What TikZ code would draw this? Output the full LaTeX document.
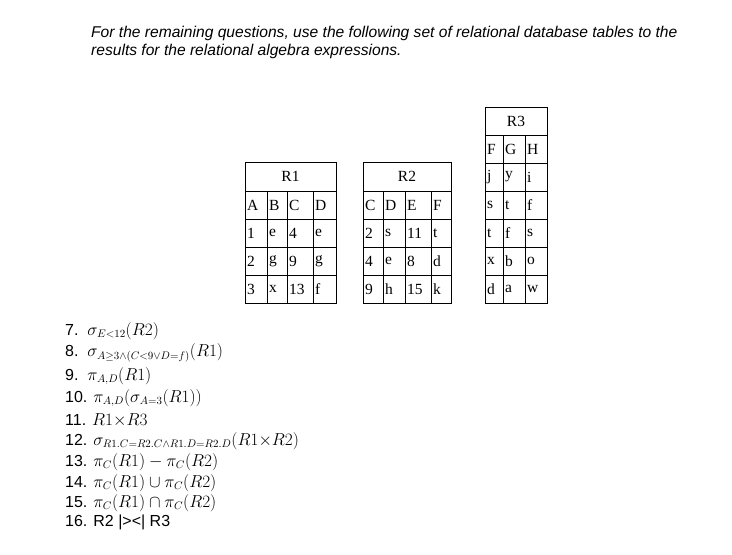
\documentclass[tikz,border=0pt]{standalone}
\usepackage{amssymb}
\usepackage{fontspec}
\setmainfont{Liberation Serif}
\setsansfont{Liberation Sans}
\usetikzlibrary{positioning}

\begin{document}
\begin{tikzpicture}[x=1pt, y=-1pt,
        cell/.style={font=\fontsize{15.5}{16}\selectfont, anchor=west, inner sep=1pt},
        head/.style={font=\fontsize{15.5}{16}\selectfont},
        item/.style={font=\sffamily\fontsize{16}{17}\selectfont, anchor=west, inner sep=0pt},
        grid/.style={draw=black, line width=0.6pt}]

        \useasboundingbox (0,0) rectangle (732,555);

        \node[anchor=north west, align=left, inner sep=0pt, font=\sffamily\itshape\fontsize{15.6}{17.5}\selectfont]
        (intro) at (91,26) {For the remaining questions, use the following set of relational database tables to the\\results for the relational algebra expressions.};

        % R1
        \draw[grid] (245,162) rectangle (336,303);
        \foreach \y in {191,219,247,275} \draw[grid] (245,\y) -- (336,\y);
        \foreach \x in {267,287,313} \draw[grid] (\x,191) -- (\x,303);
        \node[head] (r1) at (290.5,176.5) {R1};
        \foreach \a/\b/\c/\d/\y in {A/B/C/D/205, 1/e/4/e/233, 2/g/9/g/261, 3/x/13/f/289} {
            \node[cell] at (246,\y) {\a}; \node[cell] at (268,\y) {\b};
            \node[cell] at (288,\y) {\c}; \node[cell] at (314,\y) {\d};
        }

        % R2
        \draw[grid] (363,162) rectangle (451,303);
        \foreach \y in {191,219,247,275} \draw[grid] (363,\y) -- (451,\y);
        \foreach \x in {383,405,431} \draw[grid] (\x,191) -- (\x,303);
        \node[head] (r2) at (407,176.5) {R2};
        \foreach \c/\d/\e/\f/\y in {C/D/E/F/205, 2/s/11/t/233, 4/e/8/d/261, 9/h/15/k/289} {
            \node[cell] at (364,\y) {\c}; \node[cell] at (384,\y) {\d};
            \node[cell] at (406,\y) {\e}; \node[cell] at (432,\y) {\f};
        }

        % R3
        \draw[grid] (485,107) rectangle (547,303);
        \foreach \y in {135,163,191,219,247,275} \draw[grid] (485,\y) -- (547,\y);
        \foreach \x in {503,525} \draw[grid] (\x,135) -- (\x,303);
        \node[head] (r3) at (516,121) {R3};
        \foreach \f/\g/\h/\y in {F/G/H/149, j/y/i/177, s/t/f/205, t/f/s/233, x/b/o/261, d/a/w/289} {
            \node[cell] at (486,\y) {\f}; \node[cell] at (504,\y) {\g};
            \node[cell] at (526,\y) {\h};
        }

        % questions
        \node[item] (q7)  at (65,331) {7.\ \ $\sigma_{E<12}(R2)$};
        \node[item] (q8)  at (65,353) {8.\ \ $\sigma_{A\geq3\wedge(C<9\vee D=f)}(R1)$};
        \node[item] (q9)  at (65,376) {9.\ \ $\pi_{A,D}(R1)$};
        \node[item] (q10) at (65,398) {10. $\pi_{A,D}\big(\sigma_{A=3}(R1)\big)$};
        \node[item] (q11) at (65,420) {11. $R1{\times}R3$};
        \node[item] (q12) at (65,441) {12. $\sigma_{R1.C=R2.C\wedge R1.D=R2.D}(R1{\times}R2)$};
        \node[item] (q13) at (65,462) {13. $\pi_C(R1)-\pi_C(R2)$};
        \node[item] (q14) at (65,483) {14. $\pi_C(R1)\cup\pi_C(R2)$};
        \node[item] (q15) at (65,503) {15. $\pi_C(R1)\cap\pi_C(R2)$};
        \node[item] (q16) at (65,522) {16. R2 |><| R3};
    \end{tikzpicture}
\end{document}
